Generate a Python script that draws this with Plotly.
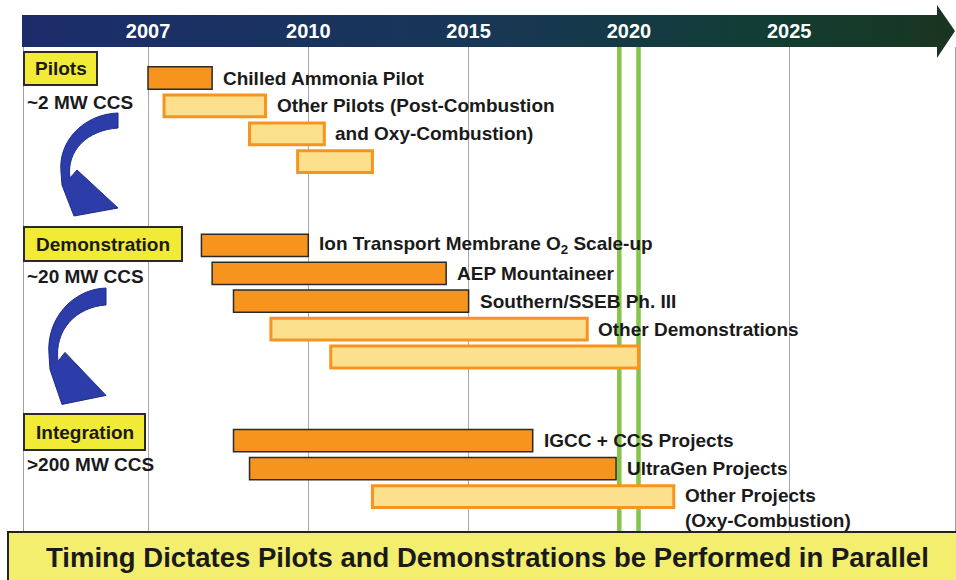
import numpy as np
import plotly.graph_objects as go

# ---------------- data ----------------
tick_years = [2007, 2010, 2015, 2020, 2025]
tick_labels = ["2007", "2010", "2015", "2020", "2025"]

bar_labels = [
    "Chilled Ammonia Pilot",
    "Other Pilots (Post-Combustion",
    "and Oxy-Combustion)",
    "",
    "Ion Transport Membrane O<sub>2</sub> Scale-up",
    "AEP Mountaineer",
    "Southern/SSEB Ph. III",
    "Other Demonstrations",
    "",
    "IGCC + CCS Projects",
    "UltraGen Projects",
    "Other Projects<br>(Oxy-Combustion)",
]
bar_lanes = [0, 1, 2, 3, 6, 7, 8, 9, 10, 13, 14, 15]
start_years = [2007.0, 2007.3, 2008.9, 2009.8, 2008.0, 2008.2, 2008.6, 2009.3, 2010.7, 2008.6, 2008.9, 2012.0]
end_years = [2008.2, 2009.2, 2010.5, 2012.0, 2010.0, 2014.3, 2015.0, 2018.7, 2020.3, 2017.0, 2019.6, 2021.4]
bar_kind = ["named", "other", "other", "other", "named", "named", "named",
            "other", "other", "named", "named", "other"]

phase_names = ["Pilots", "Demonstration", "Integration"]
phase_scales = ["~2 MW CCS", "~20 MW CCS", ">200 MW CCS"]
window_years = [2019.7, 2020.3]
banner_text = "Timing Dictates Pilots and Demonstrations be Performed in Parallel"

# ---------------- helpers ----------------
FONT = "Liberation Sans, Arial, Helvetica, sans-serif"
TXT = "#1a1a1a"
tick_pos = list(range(len(tick_years)))


def to_pos(year):
    """timeline position: the chart's year ticks are equally spaced"""
    return float(np.interp(year, tick_years, tick_pos))


starts = [to_pos(v) for v in start_years]
ends = [to_pos(v) for v in end_years]

fig = go.Figure()

# decoration layer (pixel space, full figure)
arrow_x = [22, 937, 937, 955, 937, 937, 22, 22]
arrow_y = [15, 15, 5, 31, 58, 47, 47, 15]
fig.add_trace(go.Scatter(
    x=arrow_x, y=arrow_y, mode="lines", fill="toself", line=dict(width=0),
    fillgradient=dict(type="horizontal",
                      colorscale=[[0, "#1C2C6B"], [0.5, "#183756"], [0.8, "#113D33"], [1, "#1A3520"]]),
    hoverinfo="skip", showlegend=False, xaxis="x", yaxis="y"))

# bars
for kind, fill, lc, lw, bw in [("named", "#F7941D", "#2a2a2a", 1.5, 0.8),
                               ("other", "#FDE08E", "#F7941D", 3, 0.78)]:
    idx = [i for i, k in enumerate(bar_kind) if k == kind]
    fig.add_trace(go.Bar(
        orientation="h",
        y=[bar_lanes[i] for i in idx],
        base=[starts[i] for i in idx],
        x=[ends[i] - starts[i] for i in idx],
        width=bw,
        marker=dict(color=fill, line=dict(color=lc, width=lw)),
        hoverinfo="skip", showlegend=False, xaxis="x2", yaxis="y2"))

annotations = []
for i, lab in enumerate(bar_labels):
    if not lab:
        continue
    nlines = lab.count("<br>") + 1
    annotations.append(dict(
        x=ends[i], y=bar_lanes[i], xref="x2", yref="y2", text="<b>%s</b>" % lab,
        showarrow=False, xanchor="left", yanchor="middle", align="left",
        xshift=9, yshift=-(nlines - 1) * 11.5,
        font=dict(family=FONT, size=19, color=TXT)))

shapes = []
# 2020 window
shapes.append(dict(type="rect", xref="x2", yref="y2",
                   x0=to_pos(window_years[0]), x1=to_pos(window_years[1]), y0=-5, y1=20,
                   fillcolor="white", line=dict(color="#84C54A", width=4.5), layer="between"))

# phase boxes & blue arrows (pixel space)
boxes = [(24, 97, 52, 85), (24, 182, 227, 261), (24, 145, 414, 450)]
scale_y = [102, 276, 464]
for (x0, x1, y0, y1), name, sc, sy in zip(boxes, phase_names, phase_scales, scale_y):
    shapes.append(dict(type="rect", xref="x", yref="y", x0=x0, x1=x1, y0=y0, y1=y1,
                       fillcolor="#F1EA36", line=dict(color="#2a2a2a", width=2)))
    annotations.append(dict(x=(x0 + x1) / 2, y=(y0 + y1) / 2, xref="x", yref="y",
                            text="<b>%s</b>" % name, showarrow=False,
                            font=dict(family=FONT, size=19, color=TXT)))
    annotations.append(dict(x=25, y=sy, xref="x", yref="y", text="<b>%s</b>" % sc,
                            showarrow=False, xanchor="left",
                            font=dict(family=FONT, size=19, color=TXT)))


def curved_arrow(ox, oy, sy):
    pts = [("M", [(0, 0)]),
           ("C", [(-33, 1), (-60, 27), (-57, 59)]),
           ("L", [(-56, 72)]),
           ("L", [(-44, 103)]),
           ("L", [(0, 95)]),
           ("L", [(-41, 57)]),
           ("L", [(-48, 65)]),
           ("C", [(-52, 37), (-30, 17), (0, 15)])]
    s = ""
    for cmd, ps in pts:
        s += cmd + " " + " ".join("%.1f,%.1f" % (ox + px, oy + py * sy) for px, py in ps) + " "
    return s + "Z"


for ox, oy, sy in [(118, 113, 1.0), (106, 288, 1.13)]:
    shapes.append(dict(type="path", xref="x", yref="y", path=curved_arrow(ox, oy, sy),
                       fillcolor="#2C3DAA", line=dict(color="#1E2C85", width=1)))

# bottom banner
shapes.append(dict(type="rect", xref="x", yref="y", x0=8, x1=962, y0=532, y1=585,
                   fillcolor="#F3EE6E", line=dict(color="#222222", width=2)))
annotations.append(dict(x=487, y=557, xref="x", yref="y", text="<b>%s</b>" % banner_text,
                        showarrow=False, font=dict(family=FONT, size=27.5, color=TXT)))

fig.update_layout(
    width=956, height=580,
    margin=dict(l=0, r=0, t=0, b=0, pad=0),
    paper_bgcolor="white", plot_bgcolor="rgba(0,0,0,0)",
    barmode="overlay",
    showlegend=False,
    xaxis=dict(domain=[0, 1], range=[0, 956], visible=False, fixedrange=True),
    yaxis=dict(domain=[0, 1], range=[580, 0], visible=False, fixedrange=True),
    xaxis2=dict(domain=[24 / 956, 955 / 956], anchor="y2", side="top",
                range=[-0.7736, 5.0343],
                tickvals=tick_pos, ticktext=tick_labels, ticks="",
                tickfont=dict(family=FONT, size=20, color="white", weight="bold"),
                ticklabelstandoff=4,
                showgrid=True, gridcolor="#A8A8A8", gridwidth=1,
                zeroline=False, showline=False),
    yaxis2=dict(domain=[1 - 532 / 580, 1 - 47 / 580], anchor="x2",
                range=[16.272, -1.111], showticklabels=False, ticks="",
                showgrid=False, zeroline=False,
                showline=True, mirror=True, linecolor="#A0A0A0", linewidth=1),
    shapes=shapes,
    annotations=annotations,
)

fig.write_html(
    "out.html",
    config={"displayModeBar": False},
    post_script="document.body.style.margin='0';document.body.style.padding='0';"
                "document.body.style.overflow='hidden';",
)
